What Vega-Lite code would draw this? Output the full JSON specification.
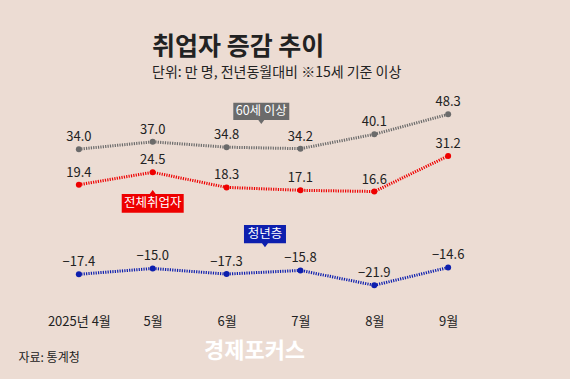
{
  "$schema": "https://vega.github.io/schema/vega-lite/v6.json",
  "autosize": "none",
  "width": 517,
  "height": 207,
  "padding": {"left": 5, "top": 98, "right": 48, "bottom": 74},
  "background": "#ecdcd3",
  "config": {"view": {"stroke": null}, "font": "Noto Sans CJK KR"},
  "title": {
    "text": "취업자 증감 추이",
    "subtitle": "단위: 만 명, 전년동월대비 ※15세 기준 이상",
    "anchor": "start",
    "frame": "group",
    "dx": 147,
    "offset": 16,
    "font": "Noto Sans CJK KR",
    "fontSize": 25,
    "fontWeight": "bold",
    "color": "#222222",
    "subtitleFont": "Noto Sans CJK KR",
    "subtitleFontSize": 14,
    "subtitleColor": "#222222",
    "subtitlePadding": 6
  },
  "datasets": {
    "series": [
      {"series": "60세 이상", "month": 4, "value": 34.0},
      {"series": "60세 이상", "month": 5, "value": 37.0},
      {"series": "60세 이상", "month": 6, "value": 34.8},
      {"series": "60세 이상", "month": 7, "value": 34.2},
      {"series": "60세 이상", "month": 8, "value": 40.1},
      {"series": "60세 이상", "month": 9, "value": 48.3},
      {"series": "전체취업자", "month": 4, "value": 19.4},
      {"series": "전체취업자", "month": 5, "value": 24.5},
      {"series": "전체취업자", "month": 6, "value": 18.3},
      {"series": "전체취업자", "month": 7, "value": 17.1},
      {"series": "전체취업자", "month": 8, "value": 16.6},
      {"series": "전체취업자", "month": 9, "value": 31.2},
      {"series": "청년층", "month": 4, "value": -17.4},
      {"series": "청년층", "month": 5, "value": -15.0},
      {"series": "청년층", "month": 6, "value": -17.3},
      {"series": "청년층", "month": 7, "value": -15.8},
      {"series": "청년층", "month": 8, "value": -21.9},
      {"series": "청년층", "month": 9, "value": -14.6}
    ],
    "tags": [
      {"series": "60세 이상", "month": 6.47, "value": 49.5},
      {"series": "전체취업자", "month": 5.0, "value": 11.7},
      {"series": "청년층", "month": 6.52, "value": -0.9}
    ]
  },
  "encoding": {
    "x": {
      "field": "month",
      "type": "quantitative",
      "scale": {"domain": [3, 10]},
      "axis": {
        "values": [4, 5, 6, 7, 8, 9],
        "labelExpr": "datum.value == 4 ? '2025년 4월' : datum.value + '월'",
        "grid": false,
        "domain": false,
        "ticks": false,
        "labelPadding": 10,
        "labelFontSize": 13,
        "labelColor": "#222222",
        "labelFont": "Noto Sans CJK KR",
        "title": "자료: 통계청",
        "titleX": 13,
        "titleY": 52,
        "titleAlign": "left",
        "titleBaseline": "middle",
        "titleFontSize": 12,
        "titleFontWeight": "normal",
        "titleColor": "#222222",
        "titleFont": "Noto Sans CJK KR"
      }
    },
    "y": {
      "field": "value",
      "type": "quantitative",
      "scale": {"domain": [-30, 55], "nice": false, "zero": false},
      "axis": {
        "labels": false,
        "ticks": false,
        "domain": false,
        "grid": false,
        "title": "경제포커스",
        "titleAngle": 0,
        "titleX": 249,
        "titleY": 252,
        "titleAlign": "center",
        "titleBaseline": "middle",
        "titleFontSize": 22,
        "titleFontWeight": "bold",
        "titleColor": "#ffffff",
        "titleFont": "Noto Sans CJK KR"
      }
    },
    "color": {
      "field": "series",
      "type": "nominal",
      "scale": {
        "domain": ["60세 이상", "전체취업자", "청년층"],
        "range": ["#6b6b6b", "#ee0000", "#0d1fae"]
      },
      "legend": null
    }
  },
  "layer": [
    {
      "data": {"name": "series"},
      "mark": {
        "type": "line",
        "strokeWidth": 3,
        "strokeDash": [1.2, 1.2],
        "point": {"filled": true, "size": 36}
      }
    },
    {
      "data": {"name": "series"},
      "mark": {
        "type": "text",
        "baseline": "bottom",
        "dy": -5,
        "fontSize": 13,
        "color": "#222222"
      },
      "encoding": {
        "text": {"field": "value", "type": "quantitative", "format": ".1f"},
        "color": {"value": "#222222"}
      }
    },
    {
      "data": {"name": "tags"},
      "mark": {"type": "point", "filled": true, "opacity": 1, "size": 3600, "strokeWidth": 0},
      "encoding": {
        "shape": {
          "field": "series",
          "type": "nominal",
          "scale": {
            "domain": ["60세 이상", "전체취업자", "청년층"],
            "range": [
              "M-0.933,-0.288H0.933V0.288H0.1L0,0.42L-0.1,0.288H-0.933Z",
              "M-1.033,-0.312H-0.1L0,-0.445L0.1,-0.312H1.033V0.312H-1.033Z",
              "M-0.7,-0.305H0.7V0.305H0.1L0,0.44L-0.1,0.305H-0.7Z"
            ]
          },
          "legend": null
        }
      }
    },
    {
      "data": {"name": "tags"},
      "mark": {"type": "text", "baseline": "middle", "fontSize": 12.5, "color": "#ffffff"},
      "encoding": {
        "text": {"field": "series", "type": "nominal"},
        "color": {"value": "#ffffff"}
      }
    }
  ]
}
